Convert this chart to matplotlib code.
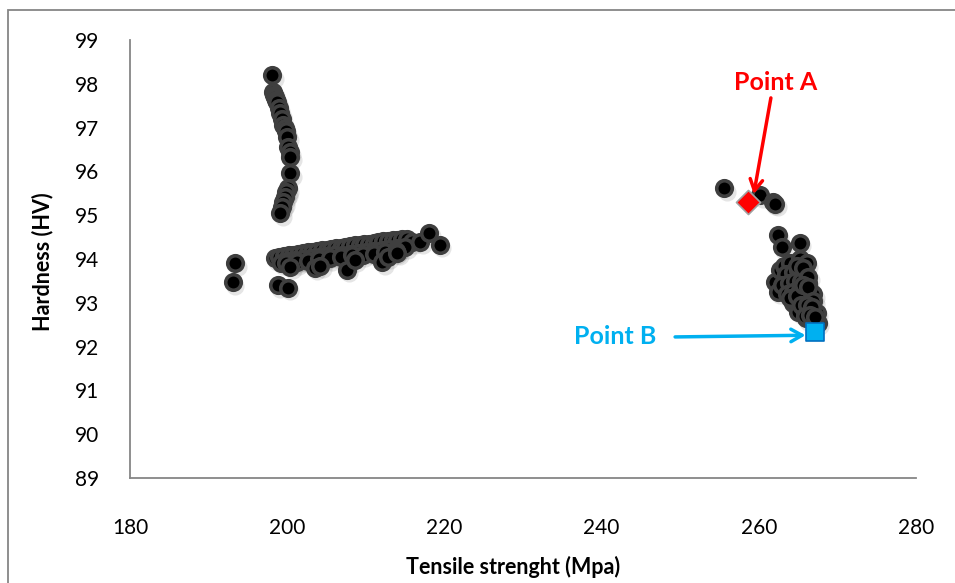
import matplotlib.pyplot as plt
import matplotlib.transforms as mtransforms
from matplotlib.patches import Rectangle

# vertical branch (left)
branch_x = [198.1, 198.2, 198.3, 198.4, 198.6, 198.7, 198.9, 199.1, 199.3, 199.5, 199.7, 199.8, 200.0,
            200.1, 200.3, 200.4, 200.4, 200.1, 199.9, 199.7, 199.5, 199.3, 199.1]
branch_y = [98.20, 97.81, 97.75, 97.70, 97.62, 97.58, 97.45, 97.33, 97.20, 97.06, 96.98, 96.92, 96.79,
            96.56, 96.45, 96.33, 95.96, 95.62, 95.52, 95.42, 95.30, 95.19, 95.05]

# horizontal band
band_x = [198.4, 199.0, 199.6, 200.2, 200.8, 201.4, 202.0, 202.6, 203.2, 203.8, 204.4, 205.0, 205.6,
          206.2, 206.8, 207.4, 208.0, 208.6, 209.2, 209.8, 210.4, 211.0, 211.6, 212.2, 212.8, 213.4,
          214.0, 214.6, 215.2, 215.9, 216.9, 218.1, 219.4,
          199.2, 200.0, 201.0, 202.0, 203.0, 204.0, 205.0, 206.0, 207.0, 208.0, 209.0, 210.0, 211.0,
          212.0, 213.0, 214.0, 215.0,
          199.8, 201.2, 202.6, 204.0, 205.4, 206.8, 208.2, 209.6, 211.0, 212.4, 213.8]
band_y = [94.02, 94.05, 94.06, 94.08, 94.10, 94.12, 94.13, 94.15, 94.17, 94.18, 94.20, 94.21, 94.23,
          94.24, 94.26, 94.28, 94.29, 94.31, 94.32, 94.34, 94.35, 94.37, 94.38, 94.40, 94.41, 94.43,
          94.44, 94.45, 94.46, 94.39, 94.39, 94.60, 94.32,
          93.92, 93.95, 93.97, 93.99, 94.02, 94.04, 94.06, 94.08, 94.10, 94.12, 94.14, 94.16, 94.18,
          94.20, 94.23, 94.25, 94.28,
          93.90, 93.93, 93.96, 93.99, 94.02, 94.05, 94.08, 94.10, 94.12, 94.15, 94.18]

# scattered low points near the band
low_x = [193.4, 193.1, 198.8, 200.1, 200.4, 203.5, 204.2, 207.6, 208.6, 212.1, 212.8, 214.0]
low_y = [93.90, 93.47, 93.40, 93.34, 93.82, 93.80, 93.85, 93.75, 93.98, 93.93, 94.05, 94.14]

# right cluster
right_x = [255.6, 260.2, 261.8, 262.1, 262.4, 262.9, 265.2,
           262.1, 262.4, 262.7, 263.2, 264.0, 265.2, 266.1, 263.5, 264.3, 265.0, 265.8,
           263.0, 263.8, 264.6, 265.4, 266.2, 263.6, 264.4, 265.2, 266.0, 266.6,
           264.3, 265.0, 265.8, 266.5, 265.0, 265.7, 266.4, 267.0, 266.0, 266.6, 267.2,
           266.9, 267.4, 267.5, 264.8, 265.6, 266.3, 264.0, 264.9, 265.6, 266.3, 266.9,
           265.4, 266.1, 266.8, 265.9, 266.5, 267.1]
right_y = [95.62, 95.46, 95.30, 95.26, 94.55, 94.27, 94.37,
           93.47, 93.25, 93.75, 93.85, 93.90, 94.00, 93.90, 93.65, 93.70, 93.75, 93.70,
           93.40, 93.45, 93.50, 93.50, 93.45, 93.20, 93.25, 93.30, 93.25, 93.20,
           93.00, 93.05, 93.05, 93.00, 92.80, 92.85, 92.85, 92.80, 92.65, 92.65, 92.60,
           93.20, 92.77, 92.54, 93.85, 93.80, 93.60, 93.10, 93.15, 93.40, 93.35, 93.05,
           92.95, 92.95, 92.90, 92.70, 92.72, 92.68]

point_a = (258.6, 95.30)
point_b = (267.2, 92.33)

all_x = branch_x + band_x + low_x + right_x
all_y = branch_y + band_y + low_y + right_y

plt.rcParams['font.family'] = ['Lato', 'DejaVu Sans']

fig = plt.figure(figsize=(9.55, 5.83), dpi=100)
ax = fig.add_axes([130 / 955, 1 - 478 / 583, (916 - 130) / 955, (478 - 40) / 583])

# soft drop shadow under the markers
shadow = mtransforms.offset_copy(ax.transData, fig=fig, x=2.5, y=-3.5, units='dots')
ax.scatter(all_x, all_y, s=170, color='#000000', alpha=0.10, lw=0, transform=shadow, zorder=1)
ax.scatter(all_x, all_y, s=125, facecolor='black', edgecolor='#3f3f3f', lw=2.6, zorder=2)

ax.scatter([point_a[0]], [point_a[1]], marker='D', s=150, facecolor='#FF0000',
           edgecolor='#A0A0A0', lw=1.2, zorder=4)
ax.scatter([point_b[0]], [point_b[1]], marker='s', s=170, facecolor='#00B0F0',
           edgecolor='#0070C0', lw=1.2, zorder=4)

# labels and arrows
ax.text(262.2, 98.04, 'Point A', color='#FF0000', fontsize=18, fontweight='bold',
        ha='center', va='center')
ax.annotate('', xy=(259.3, 95.42), xytext=(261.6, 97.74),
            arrowprops=dict(arrowstyle='->,head_length=0.8,head_width=0.45', color='#FF0000', lw=2.5))
ax.text(241.7, 92.22, 'Point B', color='#00B0F0', fontsize=18, fontweight='bold',
        ha='center', va='center')
ax.annotate('', xy=(266.3, 92.26), xytext=(249.0, 92.22),
            arrowprops=dict(arrowstyle='->,head_length=0.8,head_width=0.45', color='#00B0F0', lw=2.5))

ax.set_xlim(180, 280)
ax.set_ylim(89, 99)
ax.set_xticks(range(180, 281, 20))
ax.set_yticks(range(89, 100))
ax.tick_params(length=0, labelsize=15)
ax.tick_params(axis='x', pad=29)
ax.tick_params(axis='y', pad=22)
for side in ['top', 'right']:
    ax.spines[side].set_visible(False)
for side in ['left', 'bottom']:
    ax.spines[side].set_color('#868686')
    ax.spines[side].set_linewidth(1.3)

fig.text(43 / 955, 1 - 262 / 583, 'Hardness (HV)', rotation=90, fontsize=15.5, fontweight='bold',
         ha='center', va='center')
fig.text(513 / 955, 1 - 567 / 583, 'Tensile strenght (Mpa)', fontsize=15.5, fontweight='bold',
         ha='center', va='center')

# chart frame
fig.patches.append(Rectangle((8 / 955, -0.05), 1.1, 1 - 10 / 583 + 0.05, transform=fig.transFigure,
                             fill=False, edgecolor='#868686', lw=1.3))

fig.savefig('out.png', dpi=100)
